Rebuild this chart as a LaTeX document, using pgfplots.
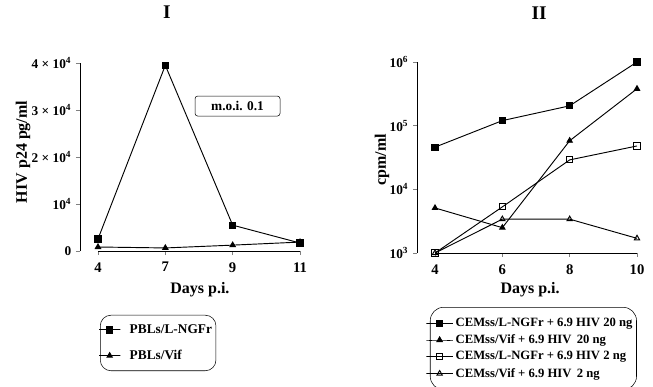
\documentclass[border=0pt]{standalone}
\usepackage{pgfplots}
\pgfplotsset{compat=1.18}
\usepackage{fontspec}
\setmainfont{Liberation Serif}
\newcommand{\fs}[1]{\fontsize{#1}{#1}\selectfont\bfseries}
\begin{document}
\begin{tikzpicture}
\useasboundingbox (0,0) rectangle (489.75pt,289.5pt);
% ---------- Panel I ----------
\begin{axis}[
  at={(60pt,101.25pt)}, anchor=south west,
  scale only axis, width=165pt, height=141pt,
  xmin=-0.267, xmax=3, ymin=0, ymax=40000,
  axis y line*=left, axis x line*=bottom,
  x axis line style={draw=none}, y axis line style={-},
  xtick={0,1,2,3}, xticklabels={4,7,9,11},
  xticklabel style={font=\fs{11}, yshift=-2pt},
  ytick={0,10000,20000,30000,40000},
  yticklabels={0,10\textsuperscript{4},2 × 10\textsuperscript{4},3 × 10\textsuperscript{4},4 × 10\textsuperscript{4}},
  yticklabel style={font=\fs{10}},
  tick align=outside, major tick length=3pt,
  tick style={line width=0.7pt},
  scaled y ticks=false,
  xlabel={Days p.i.}, xlabel style={font=\fs{12}, at={(axis description cs:0.545,-0.207)}, anchor=center},
  ylabel={HIV p24 pg/ml}, ylabel style={font=\fs{12}, at={(axis description cs:-0.259,0.527)}, anchor=center, rotate=0},
  clip=false,
  every axis plot/.append style={black, line width=0.7pt, mark size=2.3pt},
  legend style={at={(axis description cs:0.091,-0.340)}, anchor=north west, draw=black, rounded corners=8pt,
    font=\fs{10}, row sep=7pt, inner xsep=1pt, inner ysep=5pt, cells={anchor=west},
    /tikz/every odd column/.append style={column sep=7pt}},
  legend image code/.code={\draw[mark repeat=2,mark phase=2] plot coordinates {(0cm,0cm) (0.2cm,0cm) (0.4cm,0cm)};},
]
\addplot[mark=square*] coordinates {(0,2550) (1,39500) (2,5500) (3,1700)};
\addlegendentry{PBLs/L-NGFr}
\addplot[mark=triangle*] coordinates {(0,850) (1,650) (2,1250) (3,1900)};
\addlegendentry{PBLs/Vif}
\draw[line width=0.7pt] (axis cs:0,0) -- (axis cs:3,0);
\node[draw, rounded corners=2pt, minimum width=63.75pt, minimum height=15pt, font=\fs{10}] at (rel axis cs:0.716,0.771) {m.o.i. 0.1};
\node[font=\fs{14.5}] at (rel axis cs:0.395,1.268) {I};
\end{axis}
% ---------- Panel II ----------
\begin{axis}[
  at={(312.75pt,99.75pt)}, anchor=south west,
  scale only axis, width=165pt, height=143.25pt,
  ymode=log, log basis y=10,
  xmin=3.465, xmax=10, ymin=1000, ymax=1000000,
  axis y line*=left, axis x line*=bottom,
  x axis line style={draw=none}, y axis line style={-},
  xtick={4,6,8,10}, xticklabels={4,6,8,10},
  xticklabel style={font=\fs{11}, yshift=-2pt},
  ytick={1000,10000,100000,1000000},
  yticklabels={10\textsuperscript{3},10\textsuperscript{4},10\textsuperscript{5},10\textsuperscript{6}},
  yticklabel style={font=\fs{10}},
  minor ytick={}, 
  tick align=outside, major tick length=3pt,
  tick style={line width=0.7pt},
  xlabel={Days p.i.}, xlabel style={font=\fs{12}, at={(axis description cs:0.514,-0.194)}, anchor=center},
  ylabel={cpm/ml}, ylabel style={font=\fs{12}, at={(axis description cs:-0.159,0.487)}, anchor=center},
  clip=false,
  every axis plot/.append style={black, line width=0.7pt, mark size=2.3pt},
  legend style={at={(axis description cs:0.059,-0.283)}, anchor=north west, draw=black, rounded corners=10pt,
    font=\fs{9.5}, row sep=0.6pt, inner xsep=1pt, inner ysep=6pt, cells={anchor=west},
    /tikz/every odd column/.append style={column sep=4pt}},
  legend image code/.code={\draw[mark repeat=2,mark phase=2] plot coordinates {(0cm,0cm) (0.2cm,0cm) (0.4cm,0cm)};},
]
\addplot[mark=square*] coordinates {(4,46000) (6,120000) (8,205000) (10,1000000)};
\addlegendentry{CEMss/L-NGFr + 6.9 HIV 20 ng}
\addplot[mark=triangle*] coordinates {(4,5100) (6,2500) (8,58000) (10,380000)};
\addlegendentry{CEMss/Vif + 6.9 HIV\, 20 ng}
\addplot[mark=square, mark options={fill=white}] coordinates {(4,1000) (6,5300) (8,29000) (10,48000)};
\addlegendentry{CEMss/L-NGFr + 6.9 HIV 2 ng}
\addplot[mark=triangle, mark options={fill=white}] coordinates {(4,1000) (6,3400) (8,3400) (10,1700)};
\addlegendentry{CEMss/Vif + 6.9 HIV\, 2 ng}
\draw[line width=0.7pt] (axis cs:4,1000) -- (axis cs:10,1000);
\node[font=\fs{14.5}] at (rel axis cs:0.555,1.258) {II};
\end{axis}
\end{tikzpicture}
\end{document}
